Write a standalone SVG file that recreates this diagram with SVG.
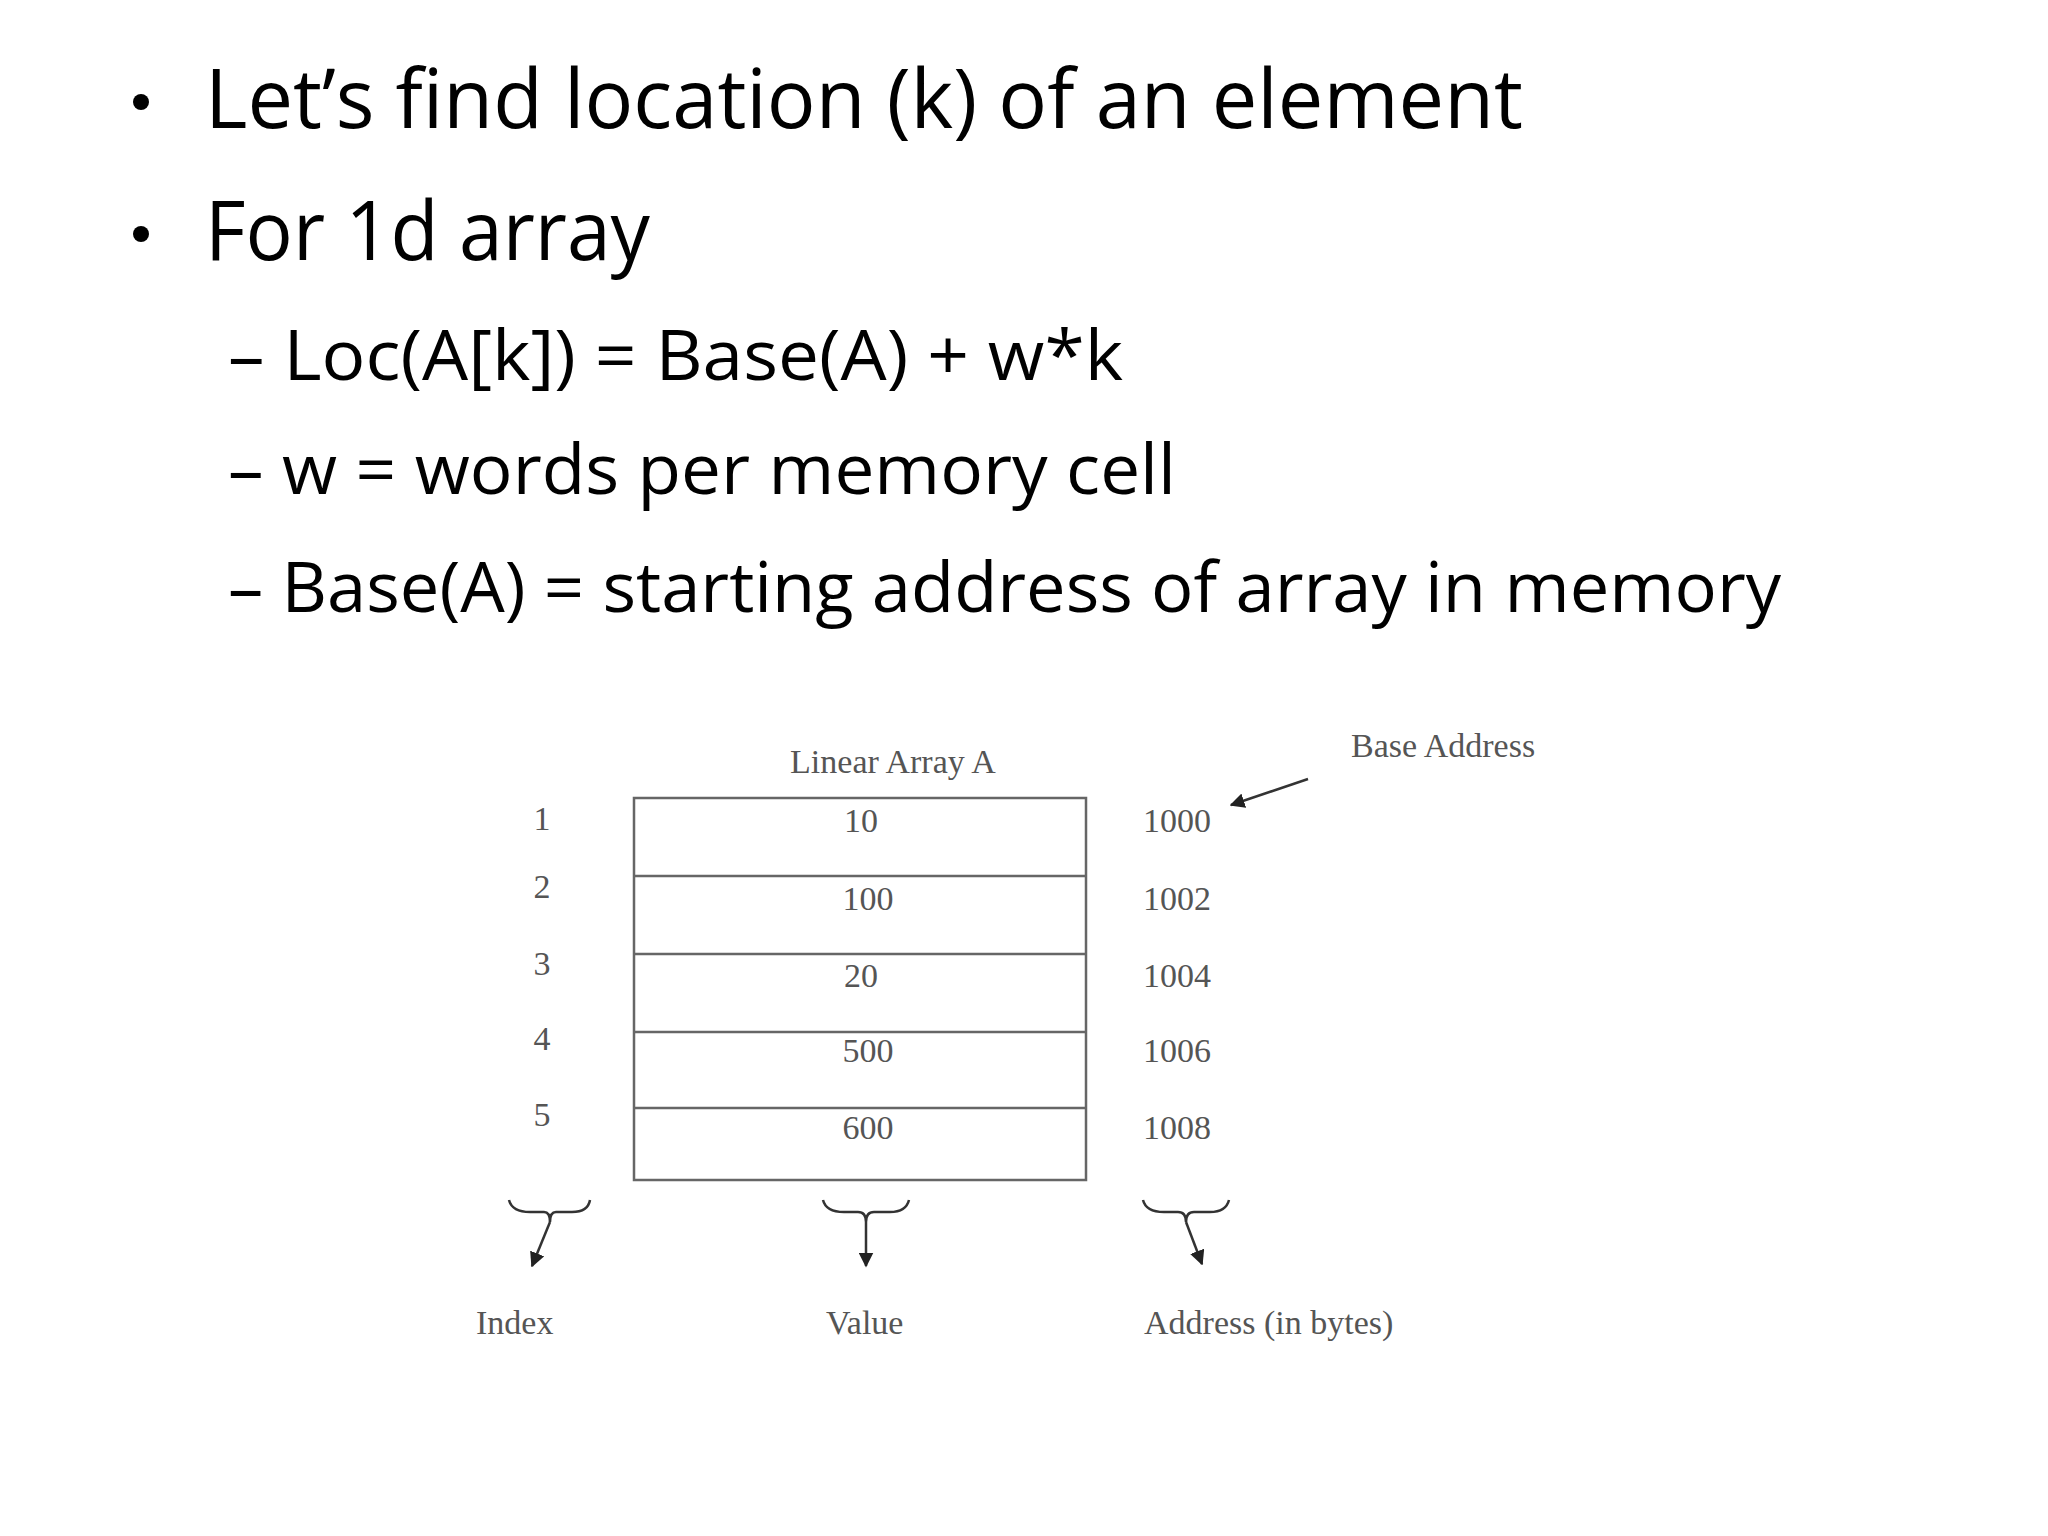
<svg xmlns="http://www.w3.org/2000/svg" width="2048" height="1536" viewBox="0 0 2048 1536">
<defs>
<style>
.t{font-family:"Open Sans","Noto Sans",sans-serif;fill:#000}
.s{font-family:"Liberation Serif",serif;font-size:34px;fill:#555}
.ln{stroke:#666;stroke-width:2.5;fill:none}
</style>
<marker id="ah" viewBox="0 0 10 10" refX="9" refY="5" markerWidth="6" markerHeight="6" orient="auto"><path d="M0,0L10,5L0,10z" fill="#222"/></marker>
</defs>
<rect width="2048" height="1536" fill="#fff"/>
<g id="text">
<circle cx="141" cy="102" r="8" fill="#000"/>
<text class="t" x="205" y="128" font-size="82" textLength="1318" lengthAdjust="spacingAndGlyphs">Let’s find location (k) of an element</text>
<circle cx="141" cy="234" r="8" fill="#000"/>
<text class="t" x="205" y="260" font-size="82" textLength="445" lengthAdjust="spacingAndGlyphs">For 1d array</text>
<text class="t" x="228" y="380" font-size="70" textLength="895" lengthAdjust="spacingAndGlyphs">– Loc(A[k]) = Base(A) + w*k</text>
<text class="t" x="228" y="494" font-size="70" textLength="948" lengthAdjust="spacingAndGlyphs">– w = words per memory cell</text>
<text class="t" x="228" y="612" font-size="70" textLength="1553" lengthAdjust="spacingAndGlyphs">– Base(A) = starting address of array in memory</text>
</g>
<g id="array">
<rect x="634" y="798" width="452" height="382" class="ln"/>
<line x1="634" y1="876" x2="1086" y2="876" class="ln"/>
<line x1="634" y1="954" x2="1086" y2="954" class="ln"/>
<line x1="634" y1="1032" x2="1086" y2="1032" class="ln"/>
<line x1="634" y1="1108" x2="1086" y2="1108" class="ln"/>
<text class="s" x="893" y="773" text-anchor="middle">Linear Array A</text>
<g text-anchor="middle">
<text class="s" x="861" y="832">10</text><text class="s" x="868" y="910">100</text><text class="s" x="861" y="987">20</text><text class="s" x="868" y="1062">500</text><text class="s" x="868" y="1139">600</text>
<text class="s" x="542" y="830">1</text><text class="s" x="542" y="898">2</text><text class="s" x="542" y="975">3</text><text class="s" x="542" y="1050">4</text><text class="s" x="542" y="1126">5</text>
</g>
<text class="s" x="1143" y="832">1000</text><text class="s" x="1143" y="910">1002</text><text class="s" x="1143" y="987">1004</text><text class="s" x="1143" y="1062">1006</text><text class="s" x="1143" y="1139">1008</text>
<text class="s" x="1351" y="757">Base Address</text>
<text class="s" x="476" y="1334">Index</text>
<text class="s" x="826" y="1334">Value</text>
<text class="s" x="1144" y="1334">Address (in bytes)</text>
</g>
<g id="connectors" stroke="#333" stroke-width="2.5" fill="none">
<line x1="1308" y1="779" x2="1231" y2="805" marker-end="url(#ah)"/>
<path d="M509,1200 Q512,1212 530,1212 L544,1212 Q550,1212 550,1222 Q550,1212 556,1212 L572,1212 Q588,1212 590,1200"/>
<line x1="550" y1="1222" x2="532" y2="1266" marker-end="url(#ah)"/>
<path d="M823,1200 Q826,1212 844,1212 L858,1212 Q866,1212 866,1222 Q866,1212 874,1212 L890,1212 Q906,1212 909,1200"/>
<line x1="866" y1="1222" x2="866" y2="1266" marker-end="url(#ah)"/>
<path d="M1143,1200 Q1146,1212 1164,1212 L1178,1212 Q1186,1212 1186,1222 Q1186,1212 1194,1212 L1210,1212 Q1226,1212 1229,1200"/>
<line x1="1186" y1="1222" x2="1202" y2="1264" marker-end="url(#ah)"/>
</g>
</svg>
